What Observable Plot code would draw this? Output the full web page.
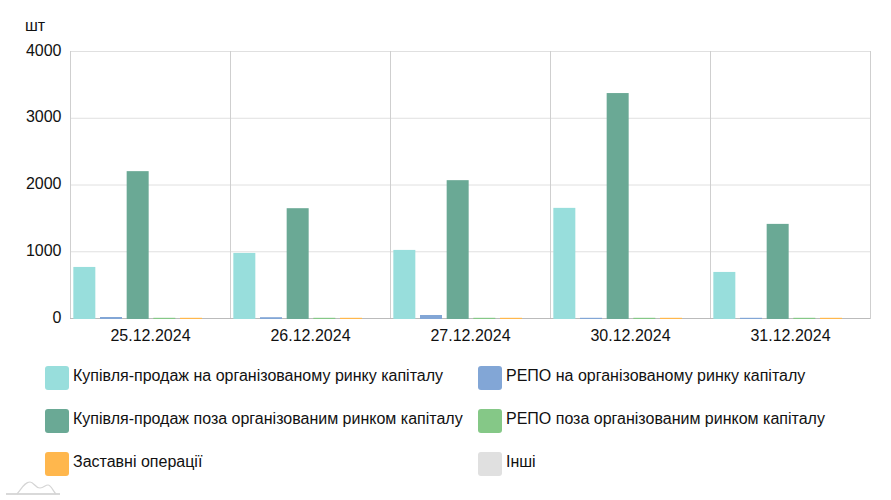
<!DOCTYPE html>
<html>
<head>
<meta charset="utf-8">
<script src="https://cdn.jsdelivr.net/npm/d3@7"></script>
<script src="https://cdn.jsdelivr.net/npm/@observablehq/plot@0.6"></script>
<style>
  html, body { margin: 0; padding: 0; background: #fff; width: 891px; height: 500px; overflow: hidden; font-family: "Liberation Sans", Arial, sans-serif; color: #111; position: relative; }
  #unit { position: absolute; left: 25px; top: 17px; font-size: 16px; line-height: 18px; }
  #chart svg { display: block; }
  #legend { position: absolute; left: 45px; top: 366px; display: grid; grid-template-columns: 433px 380px; grid-auto-rows: 43px; }
  .item { display: flex; align-items: flex-start; font-size: 16px; line-height: 18px; }
  .item .txt { position: relative; top: 1px; }
  .sw { width: 24px; height: 24px; border-radius: 3px; margin-right: 4px; flex: none; }
  #logo { position: absolute; left: 6px; top: 480px; }
</style>
</head>
<body>
<div id="unit">шт</div>
<div id="chart"></div>
<div id="legend"></div>
<svg id="logo" width="56" height="16" viewBox="0 0 56 16" fill="none">
  <path d="M0 14 H54" stroke="#ccc" stroke-width="1.5"/>
  <path d="M11 14 C16 8 19 2 24 2 C28 2 29 8 34 8 C38 8 39 5 42 5 C45 5 47 11 50 14" stroke="#d5d5d5" stroke-width="1.2"/>
</svg>
<script>
const dates = ["25.12.2024", "26.12.2024", "27.12.2024", "30.12.2024", "31.12.2024"];
const seriesNames = [
  "Купівля-продаж на організованому ринку капіталу",
  "РЕПО на організованому ринку капіталу",
  "Купівля-продаж поза організованим ринком капіталу",
  "РЕПО поза організованим ринком капіталу",
  "Заставні операції",
  "Інші"
];
const seriesColors = ["#98dedc", "#82a6d6", "#6aa995", "#85c887", "#ffb74d", "#e0e0e0"];
const buyOrganized   = [765, 975, 1020, 1650, 690];
const repoOrganized  = [15, 12, 45, 3, 3];
const buyOutside     = [2200, 1645, 2065, 3370, 1410];
const repoOutside    = [3, 3, 3, 3, 3];
const pledge         = [3, 3, 3, 3, 3];
const other          = [0, 0, 0, 0, 0];
const seriesValues = [buyOrganized, repoOrganized, buyOutside, repoOutside, pledge, other];
const yTicks = [0, 1000, 2000, 3000, 4000];

const rows = seriesNames.flatMap((name, s) =>
  dates.map((date, d) => ({date, name, value: seriesValues[s][d]})));

const chart = Plot.plot({
  width: 891,
  height: 355,
  marginTop: 51,
  marginBottom: 37,
  marginLeft: 70,
  marginRight: 21,
  style: {fontFamily: "Liberation Sans, Arial, sans-serif", fontSize: "16px", color: "#111", background: "#fff"},
  fx: {domain: dates, padding: 0, label: null},
  x: {domain: seriesNames, paddingInner: 0.175, paddingOuter: 0.0875, round: false, align: 0.5, axis: null, label: null},
  y: {domain: [0, 4000], label: null},
  color: {domain: seriesNames, range: seriesColors},
  marks: [
    Plot.gridY(yTicks, {stroke: "#e0e0e0", strokeOpacity: 1}),
    Plot.frame({anchor: "left", stroke: "#cfcfcf", strokeOpacity: 1}),
    Plot.frame({anchor: "right", stroke: "#cfcfcf", strokeOpacity: 1}),
    Plot.axisY(yTicks, {tickSize: 0, tickPadding: 9, dy: -1, label: null, fontSize: 16, tickFormat: d => String(d), fill: "#111"}),
    Plot.axisFx({anchor: "bottom", tickSize: 0, tickPadding: 11, label: null, fontSize: 16, fill: "#111"}),
    Plot.ruleY([0], {stroke: "#bbb"}),
    Plot.barY(rows, {filter: d => d.value > 0, fx: "date", x: "name", y: "value", fill: "name", dx: 1, insetBottom: -1})
  ]
});
document.getElementById("chart").append(chart);

const legend = document.getElementById("legend");
seriesNames.forEach((name, i) => {
  const item = document.createElement("div");
  item.className = "item";
  const sw = document.createElement("span");
  sw.className = "sw";
  sw.style.background = seriesColors[i];
  const label = document.createElement("span");
  label.className = "txt";
  label.textContent = name;
  item.append(sw, label);
  legend.append(item);
});
</script>
</body>
</html>
